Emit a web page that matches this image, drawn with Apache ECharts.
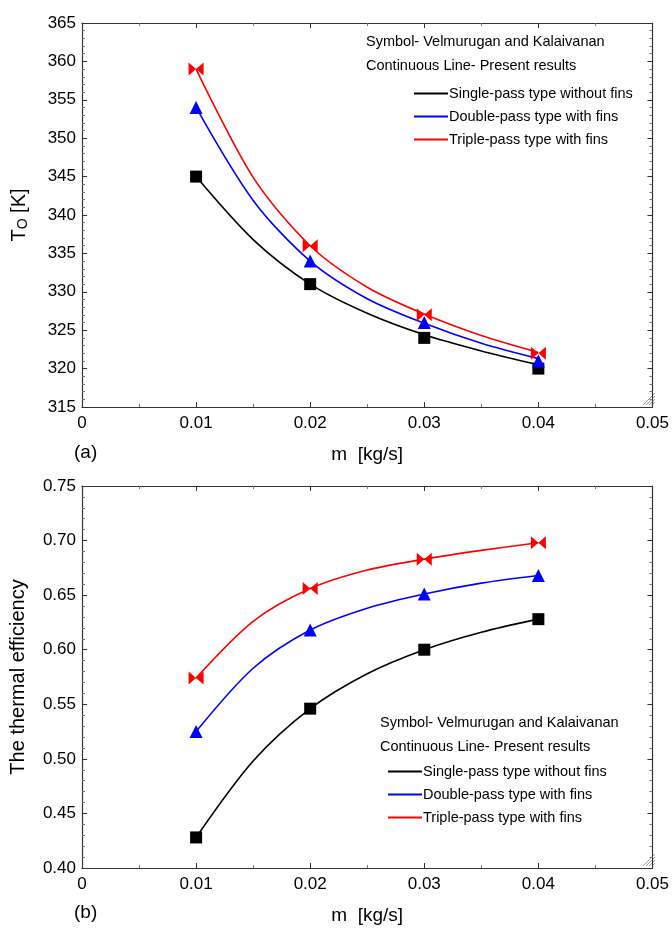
<!DOCTYPE html>
<html>
<head>
<meta charset="utf-8">
<script src="https://cdn.jsdelivr.net/npm/echarts@6/dist/echarts.min.js"></script>
<style>
  html, body { margin: 0; padding: 0; background: #fff; }
  #chart { width: 672px; height: 931px; }
</style>
</head>
<body>
<div id="chart"></div>
<script>
var mass = [0.01, 0.02, 0.03, 0.04];
var lineMass = [0.01, 0.015, 0.02, 0.025, 0.03, 0.035, 0.04];
var names = ['Single-pass type without fins', 'Double-pass type with fins', 'Triple-pass type with fins'];

// (a) outlet temperature, symbols (Velmurugan and Kalaivanan)
var tempSymSingle = [345, 331, 324, 320];
var tempSymDouble = [354, 334, 326, 321];
var tempSymTriple = [359, 336, 327, 322];
// (a) continuous lines (present results)
var tempLineSingle = [345, 336.8, 331, 327.2, 324.4, 322.3, 320.5];
var tempLineDouble = [354, 341.9, 334, 329.1, 325.9, 323.3, 321.3];
var tempLineTriple = [359, 344.9, 336, 330.6, 327.1, 324.3, 322.1];

// (b) thermal efficiency, symbols
var effSymSingle = [0.428, 0.546, 0.600, 0.628];
var effSymDouble = [0.525, 0.618, 0.651, 0.668];
var effSymTriple = [0.574, 0.656, 0.683, 0.698];
// (b) continuous lines
var effLineSingle = [0.428, 0.498, 0.546, 0.578, 0.600, 0.616, 0.628];
var effLineDouble = [0.525, 0.583, 0.618, 0.638, 0.651, 0.661, 0.668];
var effLineTriple = [0.574, 0.626, 0.656, 0.673, 0.683, 0.691, 0.698];

var colors = ['#000000', '#0000ff', '#ff0000'];
var bowtie = 'path://M0,0 L10,5 L0,10 Z M20,0 L10,5 L20,10 Z';
var symbols = ['rect', 'triangle', bowtie];
var symSizes = [12, 13, [15, 13]];
var font = 'Liberation Sans, Arial, sans-serif';

function pairs(xs, ys) {
    return xs.map(function (x, i) { return [x, ys[i]]; });
}

var myChart = echarts.init(document.getElementById('chart'));

function xAxes(gi) {
    var base = {
        gridIndex: gi, type: 'value', min: 0, max: 0.05, interval: 0.01,
        axisLine: { show: true, onZero: false, lineStyle: { color: '#333', width: 1.2 } },
        axisTick: { show: true, inside: true, length: 5, lineStyle: { color: '#333' } },
        minorTick: { show: true, splitNumber: 2, length: 3, lineStyle: { color: '#777' } },
        splitLine: { show: false }
    };
    var bottom = Object.assign({}, base, {
        position: 'bottom',
        name: 'm  [kg/s]', nameLocation: 'middle', nameGap: 38,
        nameTextStyle: { fontFamily: font, fontSize: 19, color: '#000' },
        axisLabel: { fontFamily: font, fontSize: 17, color: '#000', margin: 8,
            formatter: function (v) { return v === 0 ? '0' : v.toFixed(2); } }
    });
    var top = Object.assign({}, base, { position: 'top', axisLabel: { show: false } });
    return [bottom, top];
}

function yAxes(gi, min, max, interval, digits, nameObj) {
    var base = {
        gridIndex: gi, type: 'value', min: min, max: max, interval: interval,
        axisLine: { show: true, onZero: false, lineStyle: { color: '#333', width: 1.2 } },
        axisTick: { show: true, inside: true, length: 5, lineStyle: { color: '#333' } },
        minorTick: { show: true, splitNumber: 5, length: 3, lineStyle: { color: '#777' } },
        splitLine: { show: false }
    };
    var left = Object.assign({}, base, {
        position: 'left',
        axisLabel: { fontFamily: font, fontSize: 17, color: '#000', margin: 6,
            formatter: function (v) { return v.toFixed(digits); } }
    }, nameObj);
    var right = Object.assign({}, base, { position: 'right', axisLabel: { show: false } });
    return [left, right];
}

var series = [];
function addSeries(xi, yi, lines, syms) {
    for (var i = 0; i < 3; i++) {
        series.push({
            name: names[i], type: 'line', xAxisIndex: xi, yAxisIndex: yi,
            data: pairs(lineMass, lines[i]), smooth: 0.3, showSymbol: false, symbol: 'none',
            lineStyle: { color: colors[i], width: 1.6 }, itemStyle: { color: colors[i] },
            silent: true, z: 2
        });
    }
    for (var j = 0; j < 3; j++) {
        series.push({
            name: 'sym' + j + '_' + xi, type: 'scatter', xAxisIndex: xi, yAxisIndex: yi,
            data: pairs(mass, syms[j]), symbol: symbols[j], symbolSize: symSizes[j],
            itemStyle: { color: colors[j], opacity: 1 }, z: 3
        });
    }
}
addSeries(0, 0, [tempLineSingle, tempLineDouble, tempLineTriple], [tempSymSingle, tempSymDouble, tempSymTriple]);
addSeries(2, 2, [effLineSingle, effLineDouble, effLineTriple], [effSymSingle, effSymDouble, effSymTriple]);

function cornerGlyph(x, y) {
    var lines = [];
    for (var k = 0; k < 4; k++) {
        var d = 3 + k * 3;
        lines.push({ type: 'line', shape: { x1: x - d, y1: y, x2: x, y2: y - d },
            style: { stroke: '#999', lineWidth: 1 } });
    }
    return { type: 'group', children: lines };
}

function noteText(x, y, txt) {
    return { type: 'text', left: x, top: y,
        style: { text: txt, fontFamily: font, fontSize: 14.5, fill: '#000' } };
}

var legendBase = {
    orient: 'vertical', data: names, icon: 'path://M0,0 H34 V2 H0 Z',
    itemWidth: 34, itemHeight: 2, itemGap: 8, selectedMode: false,
    textStyle: { fontFamily: font, fontSize: 14.5, color: '#000', padding: [0, 0, 0, -4] }
};

var option = {
    backgroundColor: '#ffffff',
    animation: false,
    grid: [
        { left: 82, top: 23, width: 575, height: 384 },
        { left: 82, top: 486, width: 575, height: 382 }
    ],
    xAxis: xAxes(0).concat(xAxes(1)),
    yAxis: yAxes(0, 315, 365, 5, 0, {
        name: 'T{s|O} [K]', nameLocation: 'middle', nameGap: 52, nameRotate: 90,
        nameTextStyle: { fontFamily: font, fontSize: 20, color: '#000',
            rich: { s: { fontFamily: font, fontSize: 14, color: '#000', padding: [8, 0, 0, 0] } } }
    }).concat(yAxes(1, 0.40, 0.75, 0.05, 2, {
        name: 'The thermal efficiency', nameLocation: 'middle', nameGap: 54, nameRotate: 90,
        nameTextStyle: { fontFamily: font, fontSize: 20, color: '#000' }
    })),
    legend: [
        Object.assign({}, legendBase, { left: 409, top: 81 }),
        Object.assign({}, legendBase, { left: 383, top: 759 })
    ],
    graphic: [
        noteText(366, 34, 'Symbol- Velmurugan and Kalaivanan'),
        noteText(366, 58, 'Continuous Line- Present results'),
        noteText(380, 715, 'Symbol- Velmurugan and Kalaivanan'),
        noteText(380, 739, 'Continuous Line- Present results'),
        { type: 'text', left: 74, top: 443, style: { text: '(a)', fontFamily: font, fontSize: 19, fill: '#000' } },
        { type: 'text', left: 74, top: 903, style: { text: '(b)', fontFamily: font, fontSize: 19, fill: '#000' } },
        cornerGlyph(655, 405),
        cornerGlyph(655, 866)
    ],
    series: series
};

myChart.setOption(option);
</script>
</body>
</html>
